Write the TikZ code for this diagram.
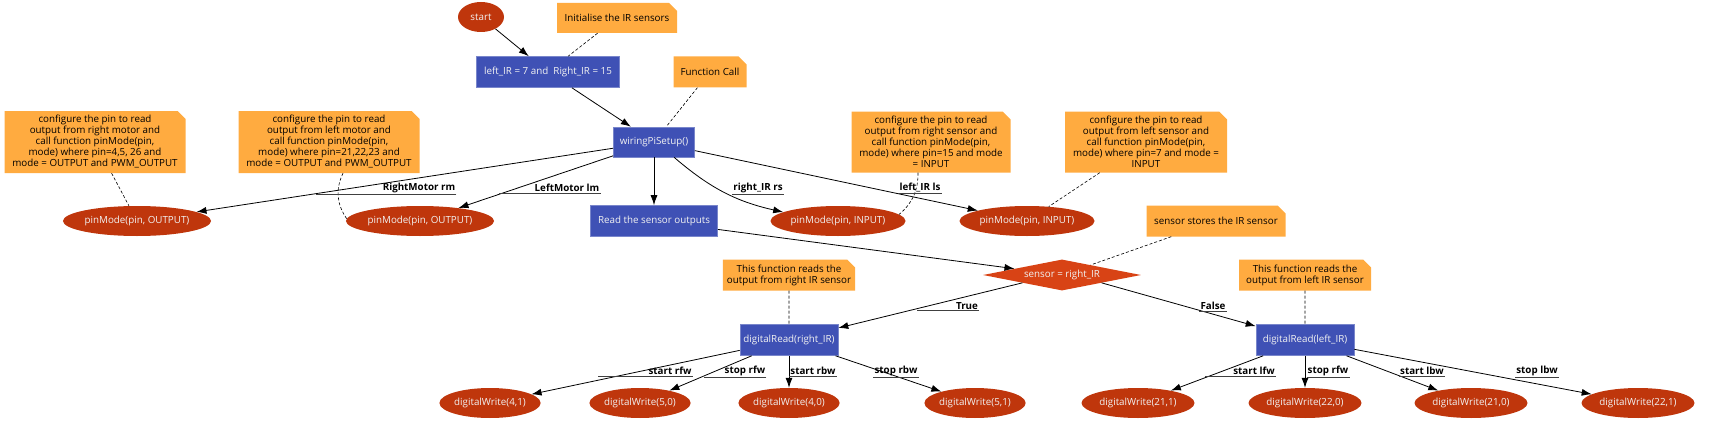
\documentclass[tikz,border=0pt]{standalone}
\usepackage{fontspec}
\setmainfont{Open Sans}
\usetikzlibrary{shapes.geometric,shapes.misc}
\usetikzlibrary{arrows.meta,arrows}
\definecolor{irred}{HTML}{BF360C}
\definecolor{irdiam}{HTML}{D84315}
\definecolor{irblue}{HTML}{3F51B5}
\definecolor{irrim}{HTML}{7986CB}
\definecolor{irnote}{HTML}{FFAB40}
\definecolor{irtext}{HTML}{F2F2F2}

\begin{document}
\begin{tikzpicture}
[x=1pt,y=-1pt,
font=\fontsize{9.8}{11}\selectfont,
oval/.style={ellipse, fill=irred, text=irtext, inner sep=0pt,
minimum height=30pt},
block/.style ={rectangle, fill=irblue, draw=irrim, line width=0.6pt,
text=irtext, inner sep=0pt, minimum height=31pt},
decision/.style={diamond, fill=irdiam, text=irtext, inner sep=0pt,
aspect=5, minimum width=158pt, minimum height=31pt},
note/.style={chamfered rectangle, chamfered rectangle corners=north east,
chamfered rectangle xsep=4pt, chamfered rectangle ysep=4pt,
fill=irnote, inner sep=0pt, align=center},
line/.style ={draw, line width=0.8pt, -{Latex[length=10pt,width=7pt]}},
link/.style ={draw, line width=0.6pt, dash pattern=on 3pt off 2pt},
lbl/.style ={font=\fontsize{9.8}{11}\selectfont\bfseries, inner sep=1pt},
uline/.style ={draw, line width=0.7pt, black!75}]
\useasboundingbox (0,0) rectangle (1714,436);
% row 1
\node [oval, minimum width=46pt] (start) at (481,17) {start};
\node [note, minimum width=120pt, minimum height=30pt] (ninit) at (617,18) {Initialise the IR sensors};
% row 2
\node [block, minimum width=143pt] (irpins) at (548,72) {left\_IR = 7 and\ \ Right\_IR = 15};
\node [note, minimum width=73pt, minimum height=31pt] (ncall) at (710,72) {Function Call};
% row 3
\node [note, minimum width=181pt, minimum height=62pt] (nrm) at (95,142) {configure the pin to read\\ output from right motor and\\ call function pinMode(pin,\\ mode) where pin=4,5, 26 and\\ mode = OUTPUT and PWM\_OUTPUT};
\node [note, minimum width=181pt, minimum height=62pt] (nlm) at (329,142) {configure the pin to read\\ output from left motor and\\ call function pinMode(pin,\\ mode) where pin=21,22,23 and\\ mode = OUTPUT and PWM\_OUTPUT};
\node [block, minimum width=81pt, minimum height=30pt] (setup) at (654,142) {wiringPiSetup()};
\node [note, minimum width=159pt, minimum height=61pt] (nrs) at (931,142) {configure the pin to read\\ output from right sensor and\\ call function pinMode(pin,\\ mode) where pin=15 and mode\\ = INPUT};
\node [note, minimum width=162pt, minimum height=61pt] (nls) at (1146,142) {configure the pin to read\\ output from left sensor and\\ call function pinMode(pin,\\ mode) where pin=7 and mode =\\ INPUT};
% row 4
\node [oval, minimum width=148pt] (pmrm) at (137,221) {pinMode(pin, OUTPUT)};
\node [oval, minimum width=144pt] (pmlm) at (420,221) {pinMode(pin, OUTPUT)};
\node [block, minimum width=127pt] (read) at (654,221) {Read the sensor outputs};
\node [oval, minimum width=135pt] (pmrs) at (838,221) {pinMode(pin, INPUT)};
\node [oval, minimum width=135pt] (pmls) at (1027,221) {pinMode(pin, INPUT)};
\node [note, minimum width=139pt, minimum height=31pt] (nsensor) at (1216,221) {sensor stores the IR sensor};
% row 5
\node [note, minimum width=129pt, minimum height=31pt] (nrread) at (789,275) {This function reads the\\ output from right IR sensor};
\node [decision] (check) at (1062,275) {sensor = right\_IR};
\node [note, minimum width=132pt, minimum height=31pt] (nlread) at (1305,275) {This function reads the\\ output from left IR sensor};
% row 6
\node [block, minimum width=98pt] (rread) at (789,340) {digitalRead(right\_IR)};
\node [block, minimum width=98pt] (lread) at (1305,340) {digitalRead(left\_IR)};
% row 7
\node [oval, minimum width=98pt] (w41) at (490,403) {digitalWrite(4,1)};
\node [oval, minimum width=98pt] (w50) at (640,403) {digitalWrite(5,0)};
\node [oval, minimum width=98pt] (w40) at (789,403) {digitalWrite(4,0)};
\node [oval, minimum width=100pt] (w51) at (975,403) {digitalWrite(5,1)};
\node [oval, minimum width=113pt] (w211) at (1138,403) {digitalWrite(21,1)};
\node [oval, minimum width=113pt] (w220) at (1305,403) {digitalWrite(22,0)};
\node [oval, minimum width=113pt] (w210) at (1471,403) {digitalWrite(21,0)};
\node [oval, minimum width=113pt] (w221) at (1638,403) {digitalWrite(22,1)};
% flow
\begin{scope}[every path/.style=line]
\path (start) -- (irpins);
\path (irpins) -- (setup);
\path (setup) -- (pmrm);
\path (setup) -- (pmlm);
\path (setup) -- (read);
\path (setup) to[bend right=14] (pmrs);
\path (setup) -- (pmls);
\path (read) -- (check);
\path (check.south west) -- (rread);
\path (check.south east) -- (lread);
\path (rread) -- (w41);
\path (rread) -- (w50);
\path (rread) -- (w40);
\path (rread) -- (w51);
\path (lread) -- (w211);
\path (lread) -- (w220);
\path (lread) -- (w210);
\path (lread) -- (w221);
\end{scope}
% notes
\begin{scope}[every path/.style=link]
\path (ninit) -- (irpins);
\path (ncall) -- (setup);
\path (nrm) -- (pmrm);
\path (nlm.south) ++(14,0) to[bend right=30] (pmlm);
\path (nrs.south) ++(-13,0) to[bend left=25] (pmrs);
\path (nls) -- (pmls);
\path (nsensor) -- (check);
\path (nrread) -- (rread);
\path (nlread) -- (lread);
\end{scope}
% edge labels
\node [lbl] (lrm) at (419,188) {RightMotor rm};
\node [lbl] (llm) at (567,188) {LeftMotor lm};
\node [lbl] (lrs) at (758,188) {right\_IR rs};
\node [lbl] (lls) at (920,188) {left\_IR ls};
\node [lbl] (ltrue) at (967,306) {True};
\node [lbl] (lfalse) at (1213,306) {False};
\node [lbl] (lsrf) at (670,371) {start rfw};
\node [lbl] (lprf) at (745,371) {stop rfw};
\node [lbl] (lsrb) at (813,371) {start rbw};
\node [lbl] (lprb) at (896,371) {stop rbw};
\node [lbl] (lslf) at (1254,371) {start lfw};
\node [lbl] (lplf) at (1328,371) {stop rfw};
\node [lbl] (lslb) at (1422,371) {start lbw};
\node [lbl] (lplb) at (1537,371) {stop lbw};
\begin{scope}[every path/.style=uline]
\path (lrm.south east) -- ++(-140,0);
\path (llm.south east) -- ++(-102,0);
\path (lrs.south east) -- (lrs.south west);
\path (lls.south east) -- (lls.south west);
\path (ltrue.south east) -- ++(-62,0);
\path (lfalse.south east) -- (lfalse.south west);
\path (lsrf.south east) -- ++(-95,0);
\path (lprf.south east) -- ++(-62,0);
\path (lsrb.south east) -- ++(-48,0);
\path (lprb.south east) -- (lprb.south west);
\path (lslf.south east) -- ++(-71,0);
\path (lplf.south east) -- ++(-43,0);
\path (lslb.south east) -- (lslb.south west);
\path (lplb.south east) -- (lplb.south west);
\end{scope}
\end{tikzpicture}
\end{document}
